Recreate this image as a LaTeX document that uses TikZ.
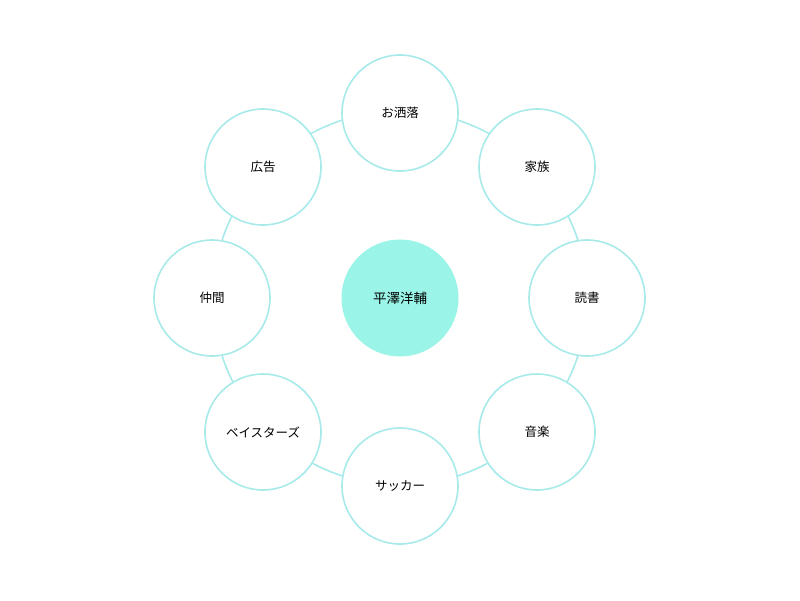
\documentclass[tikz,border=0pt]{standalone}
\usepackage{fontspec}
\setmainfont{Noto Sans CJK JP}
\definecolor{ring}{HTML}{A8EAEA}
\definecolor{core}{HTML}{9AF5E8}
\begin{document}
\begin{tikzpicture}[x=1pt,y=-1pt,
  leaf/.style={circle,draw=ring,line width=1.6pt,fill=white,minimum size=116pt,inner sep=0pt,font=\fontsize{12.5}{14}\selectfont},
  hub/.style={circle,fill=core,minimum size=117pt,inner sep=0pt,font=\fontsize{13.5}{15}\selectfont}]
\useasboundingbox (0,0) rectangle (800,600);
\coordinate (c) at (400,298);
\draw[ring,line width=1.6pt] (c) circle (187);
\node[hub] (h) at (c) {平澤洋輔};
\node[leaf] (a) at (400,113) {お洒落};
\node[leaf] (b) at (537,167) {家族};
\node[leaf] (d) at (587,298) {読書};
\node[leaf] (e) at (537,432) {音楽};
\node[leaf] (f) at (400,486) {サッカー};
\node[leaf] (g) at (263,432) {ベイスターズ};
\node[leaf] (i) at (212,298) {仲間};
\node[leaf] (j) at (263,167) {広告};
\end{tikzpicture}
\end{document}
